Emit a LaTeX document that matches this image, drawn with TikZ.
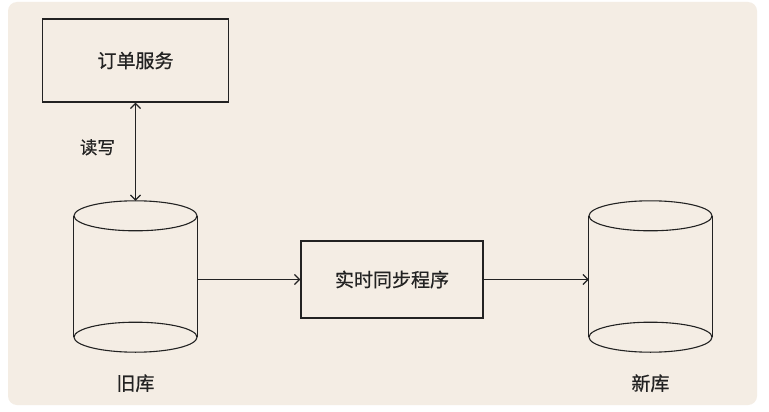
\documentclass[tikz,border=0pt]{standalone}
\usepackage{fontspec}
\newfontfamily\cjk[FakeBold=0.6]{Noto Sans CJK SC}
\usetikzlibrary{arrows.meta, positioning}
\definecolor{bgcolor}{RGB}{244,237,228}
\definecolor{linecolor}{RGB}{34,34,34}
\tikzset{
  service/.style={draw=linecolor, line width=1.4pt, fill=bgcolor,
                  minimum width=186pt, minimum height=83pt, inner sep=0pt,
                  font=\cjk\fontsize{19}{22}\selectfont, text=linecolor},
  dbbody/.style={minimum width=123pt, minimum height=121pt, inner sep=0pt},
  dbline/.style={draw=linecolor, line width=1.1pt},
  arrow/.style={-{Straight Barb[length=5pt, width=10pt]}, line width=1.2pt,
                draw=linecolor},
  darrow/.style={{Straight Barb[length=5pt, width=10pt]}-{Straight Barb[length=5pt, width=10pt]},
                 line width=1.2pt, draw=linecolor},
  label/.style={font=\cjk\fontsize{19}{22}\selectfont, text=linecolor, inner sep=0pt},
}
\newcommand{\dbcyl}[1]{%
  \draw[dbline] (#1.north west) -- (#1.south west);
  \draw[dbline] (#1.north east) -- (#1.south east);
  \draw[dbline] (#1.north) ellipse [x radius=61.5pt, y radius=15pt];
  \draw[dbline] (#1.south) ellipse [x radius=61.5pt, y radius=15pt];
}

\begin{document}
\begin{tikzpicture}[x=1pt, y=-1pt]
  \useasboundingbox (0,0) rectangle (769,412);
  \fill[white] (0,0) rectangle (769,412);
  \fill[bgcolor, rounded corners=9pt] (8,2) rectangle (757,405);

  \node[service] (order) at (135.5,60.5) {订单服务};
  \node[service, minimum width=182pt, minimum height=77pt] (sync) at (392,279.5) {实时同步程序};
  \node[dbbody] (olddb) at (135.5,276.5) {};
  \node[dbbody] (newdb) at (650.5,276.5) {};
  \dbcyl{olddb}
  \dbcyl{newdb}

  \node[label] (oldlbl) at ([yshift=-46pt]olddb.south) {旧库};
  \node[label] (newlbl) at ([yshift=-46pt]newdb.south) {新库};

  \coordinate (oldtop) at ([yshift=15pt]olddb.north);
  \draw[darrow] (order.south) -- node[label, font=\cjk\fontsize{17.5}{21}\selectfont,
    left=20pt, yshift=4.5pt] {读写} (oldtop);
  \draw[arrow] (olddb.east |- sync.west) -- (sync.west);
  \draw[arrow] (sync.east) -- (newdb.west |- sync.east);
\end{tikzpicture}
\end{document}
